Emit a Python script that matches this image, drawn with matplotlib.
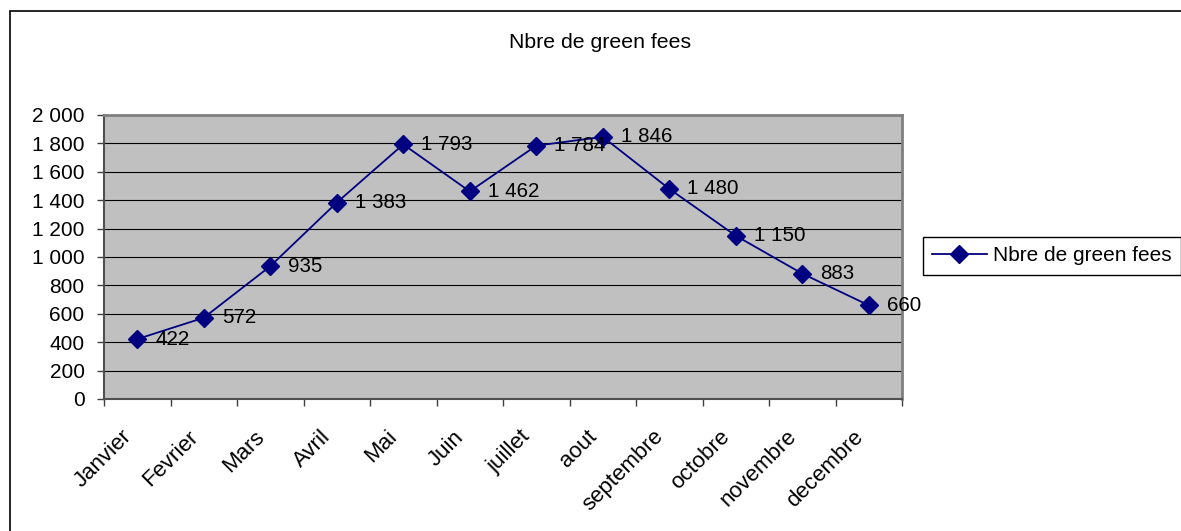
import matplotlib.pyplot as plt
from matplotlib.patches import Rectangle
from matplotlib.lines import Line2D
from matplotlib.transforms import ScaledTranslation

#--- data
months = ['Janvier', 'Fevrier', 'Mars', 'Avril', 'Mai', 'Juin', 'juillet',
          'aout', 'septembre', 'octobre', 'novembre', 'decembre']
green_fees = [422, 572, 935, 1383, 1793, 1462, 1784, 1846, 1480, 1150, 883, 660]
y_ticks = list(range(0, 2001, 200))

def fr_num(v):
    # french style thousands separator
    return f'{v:,}'.replace(',', ' ')

plt.rcParams['font.family'] = ['Liberation Sans', 'DejaVu Sans']

fig = plt.figure(figsize=(11.81, 5.31), dpi=100)
ax = fig.add_axes([104 / 1181, 1 - 399 / 531, 798 / 1181, 284 / 531])
ax.set_facecolor('#C0C0C0')

x = list(range(len(months)))
ax.plot(x, green_fees, color='#000080', lw=1.3, marker='D', ms=9,
        mfc='#000080', mec='#000080', zorder=3)

for xi, v in zip(x, green_fees):
    ax.annotate(fr_num(v), (xi, v), xytext=(13, 0), textcoords='offset points',
                ha='left', va='center', fontsize=14.8, color='black', zorder=4)

#--- axes
ax.set_xlim(-0.5, len(months) - 0.5)
ax.set_ylim(0, 2000)
ax.set_yticks(y_ticks)
ax.set_yticklabels([fr_num(t) for t in y_ticks], fontsize=15)
ax.yaxis.grid(True, color='black', lw=0.8)
ax.set_axisbelow(True)

ax.set_xticks([i - 0.5 for i in range(len(months) + 1)])
ax.set_xticklabels([])
ax.set_xticks(x, minor=True)
ax.set_xticklabels(months, minor=True, rotation=45, ha='right', va='center',
                   rotation_mode='anchor', fontsize=16)
ax.tick_params(axis='x', which='minor', length=0, pad=25)
ax.tick_params(axis='x', which='major', length=5, width=1, color='#404040')
ax.tick_params(axis='y', length=5, width=1, color='#404040', pad=9)
shift = ScaledTranslation(-9 / 100, 0, fig.dpi_scale_trans)
for lbl in ax.get_xticklabels(minor=True):
    lbl.set_transform(lbl.get_transform() + shift)

for side in ['top', 'right']:
    ax.spines[side].set_color('#808080')
    ax.spines[side].set_linewidth(2)
for side in ['left', 'bottom']:
    ax.spines[side].set_color('#505050')
    ax.spines[side].set_linewidth(1.5)

fig.text(600 / 1181, 1 - 43 / 531, 'Nbre de green fees', ha='center',
         va='center', fontsize=15.3)

# legend
handle = Line2D([], [], color='#000080', lw=1.3, marker='D', ms=9)
fig.legend([handle], ['Nbre de green fees'], loc='upper left',
           bbox_to_anchor=(923 / 1181, 1 - 237 / 531), fontsize=15,
           frameon=True, fancybox=False, edgecolor='black', framealpha=1,
           borderpad=0.45, handlelength=2.6, handletextpad=0.3, borderaxespad=0)

# outer chart border
fig.patches.append(Rectangle((10 / 1181, -0.1), 1.2, 1.1 - 11 / 531,
                             transform=fig.transFigure, fill=False,
                             edgecolor='black', lw=1.2))

fig.savefig('out.png', dpi=100)
